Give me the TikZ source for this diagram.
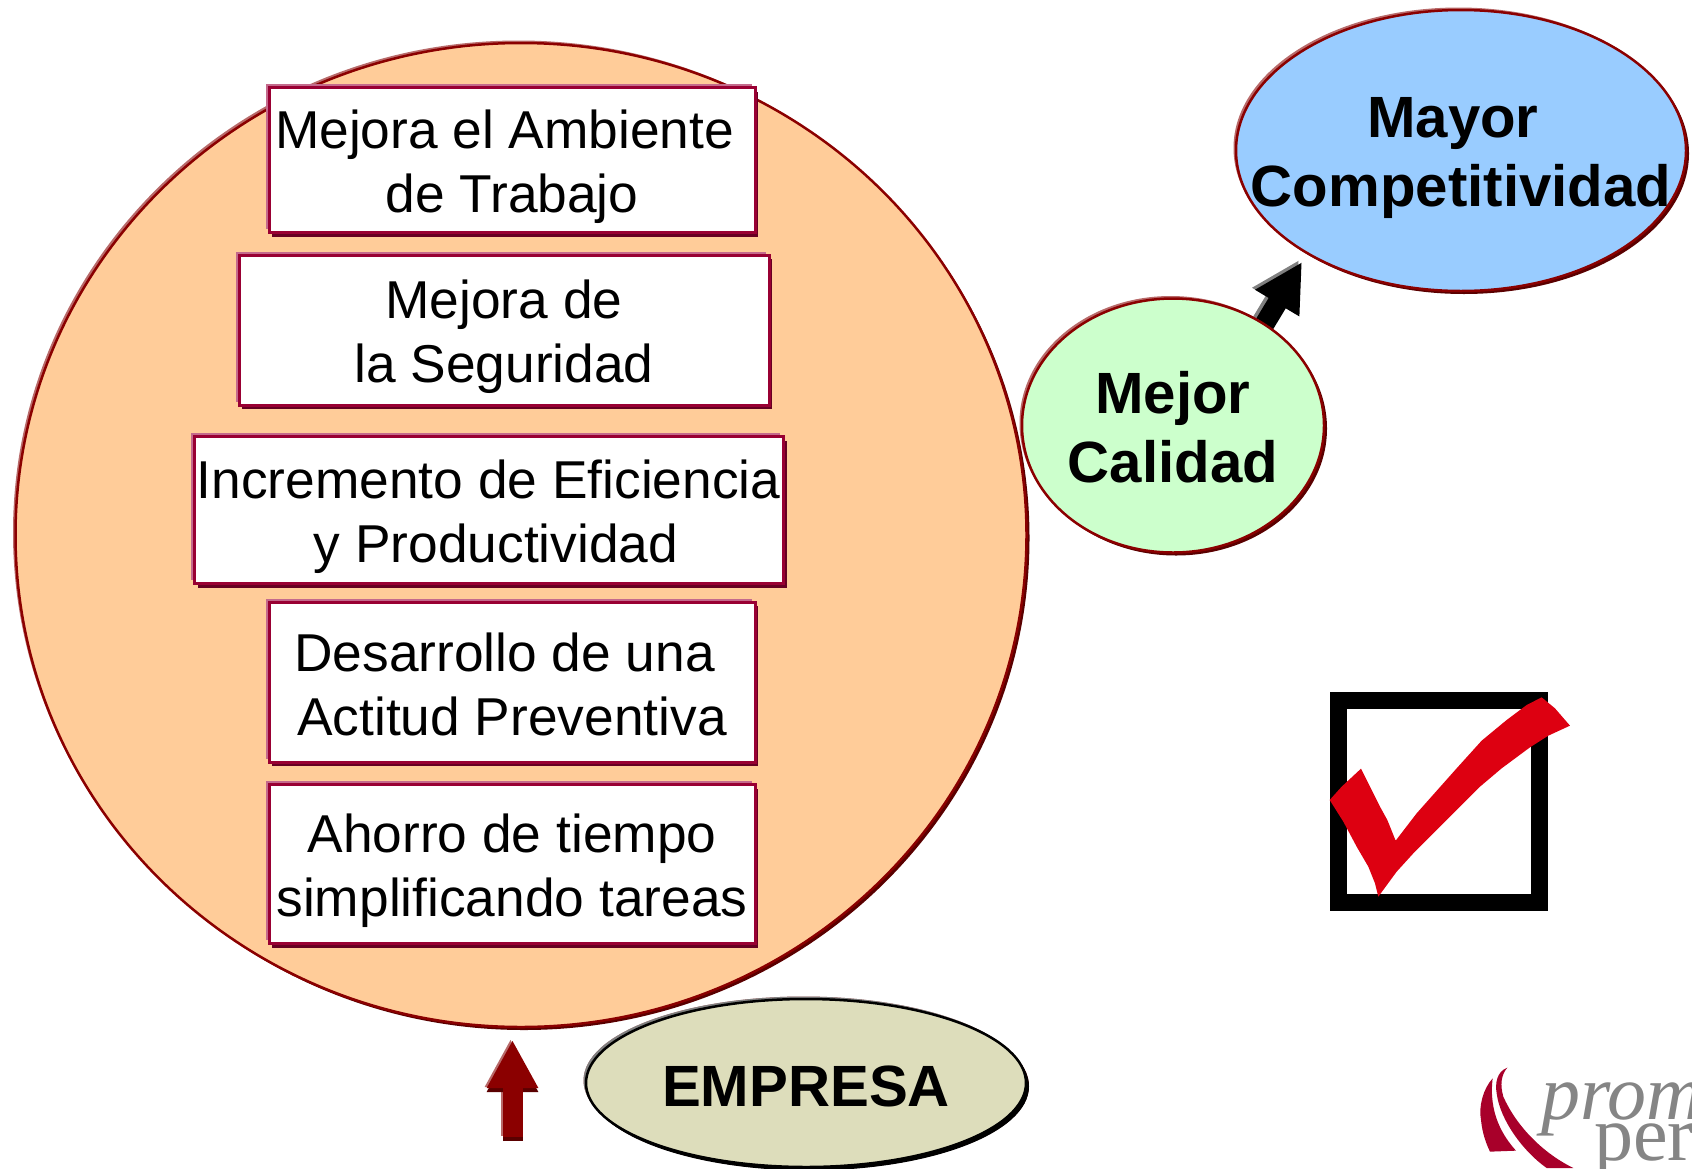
\documentclass[tikz,border=0pt]{standalone}
\usepackage{fontspec}
\setmainfont{Liberation Sans}
\newfontfamily\logofont{Liberation Serif}
\usetikzlibrary{shapes.geometric,shadows,arrows.meta,backgrounds}
\definecolor{peach}{HTML}{FFCC99}
\definecolor{mint}{HTML}{CCFFCC}
\definecolor{sky}{HTML}{99CCFF}
\definecolor{khaki}{HTML}{DDDDBB}
\definecolor{maroon}{HTML}{8B0000}
\definecolor{maroonlight}{HTML}{B86A6A}
\definecolor{maroondark}{HTML}{5A0000}
\definecolor{wine}{HTML}{990033}
\definecolor{winelight}{HTML}{C46A8C}
\definecolor{winedark}{HTML}{660022}
\definecolor{checkred}{HTML}{DD0011}
\definecolor{logored}{HTML}{A8002A}
\definecolor{logogray}{HTML}{858585}
\newcommand{\tspace}{\mbox{\ }}
\tikzset{oval/.style={ellipse,draw=maroon,line width=2.5pt,inner sep=0,
    general shadow={shadow xshift=-2.5pt,shadow yshift=2.5pt,fill=maroonlight},
    general shadow={shadow xshift=3pt,shadow yshift=-3pt,fill=maroondark}},
    textbox/.style={rectangle,draw=wine,fill=white,line width=3pt,inner sep=0,
    general shadow={shadow xshift=-3.5pt,shadow yshift=3.5pt,fill=winelight},
    general shadow={shadow xshift=3pt,shadow yshift=-4pt,fill=winedark}},
    boxtext/.style={align=center,inner sep=0,yshift=-6.5pt,font=\fontsize{53.3}{64}\selectfont},
    ovaltext/.style={align=center,inner sep=0,font=\fontsize{58.2}{69}\selectfont\bfseries},
    blockarrow/.style={line width=20pt,-{Triangle[length=48pt,width=48pt]}}}

\begin{document}
\begin{tikzpicture}[x=1pt,y=-1pt]
\useasboundingbox (0,0) rectangle (1692,1168);
\node[oval,fill=peach,minimum width=1011pt,minimum height=984pt] (empresacircle) at (521,535) {};

\node[textbox,minimum width=486pt,minimum height=145pt] (ambiente) at (512,160) {};
\node[boxtext] at (ambiente) {Mejora el Ambiente\tspace\\de Trabajo};
\node[textbox,minimum width=530pt,minimum height=150pt] (seguridad) at (504,330) {};
\node[boxtext] at (seguridad) {Mejora de\\la Seguridad};
\node[textbox,minimum width=589pt,minimum height=147pt] (eficiencia) at (489,510) {};
\node[boxtext,xshift=7pt] at (eficiencia) {Incremento de Eficiencia\tspace\\y Productividad};
\node[textbox,minimum width=486pt,minimum height=160pt] (actitud) at (512,682) {};
\node[boxtext,yshift=4.5pt] at (actitud) {Desarrollo de una\tspace\\Actitud Preventiva};
\node[textbox,minimum width=486pt,minimum height=159pt] (ahorro) at (512,864) {};
\node[boxtext] at (ahorro) {Ahorro de tiempo\\simplificando tareas};

\node[oval,fill=mint,minimum width=302pt,minimum height=254pt] (calidad) at (1173,425.5) {};
\node[ovaltext,yshift=-1.5pt] at (calidad) {Mejor\\Calidad};
\node[oval,fill=sky,minimum width=450pt,minimum height=281pt] (mayor) at (1461,150.5) {};
\node[ovaltext,yshift=-7.5pt] at (mayor) {Mayor\tspace\\Competitividad};
\node[oval,draw=black,fill=khaki,minimum width=440pt,minimum height=168pt,
    general shadow={shadow xshift=-2.5pt,shadow yshift=2.5pt,fill=gray},
    general shadow={shadow xshift=3pt,shadow yshift=-3.5pt,fill=black}] (empresa) at (806,1083) {};
\node[ovaltext,yshift=-3pt] at (empresa) {EMPRESA};

% flechas
\coordinate (mayortip) at (1302,262);
\coordinate (mayortail) at (calidad.48);
\begin{scope}[on background layer]
\draw[blockarrow,gray,shorten <=-10pt] ([shift={(-3,-2)}]mayortail) -- ([shift={(-3,-2)}]mayortip);
\draw[blockarrow,black,shorten <=-10pt] (mayortail) -- (mayortip);
\end{scope}
\coordinate (empresatip) at (512.5,1040);
\coordinate (empresatail) at (512.5,1137);
\draw[blockarrow,maroonlight] ([shift={(-2,-1)}]empresatail) -- ([shift={(-2,-1)}]empresatip);
\draw[blockarrow,maroondark] ([shift={(0,4)}]empresatail) -- ([shift={(0,4)}]empresatip);
\draw[blockarrow,maroon] (empresatail) -- (empresatip);

% casilla
\node[draw=black,line width=16.5pt,minimum width=201pt,minimum height=202pt,inner sep=0] (casilla) at (1439,801.5) {};
\begin{scope}[shift={(1300,670)},x=.3333pt,y=-.3333pt]
\fill[checkred] (89,390) -- (125,350) -- (183,296) -- (240,410) -- (262,450) -- (287,512)
  -- (350,430) -- (470,295) -- (545,212) -- (620,150) -- (680,105) -- (725,82) -- (765,115)
  -- (810,167) -- (745,197) -- (690,232) -- (605,295) -- (540,350) -- (470,420) -- (400,490)
  -- (340,550) -- (290,605) -- (235,680) -- (225,640) -- (205,590) -- (170,530) -- (130,455) -- cycle;
\end{scope}

% logo
\begin{scope}
\clip (0,0) rectangle (1692,1168);
\begin{scope}[shift={(1400,1020)},x=.3333pt,y=-.3333pt]
\fill[logored] (278,175) .. controls (250,205) and (235,260) .. (243,300)
  .. controls (247,340) and (258,370) .. (270,395) -- (348,392)
  .. controls (310,350) and (265,280) .. (278,175) -- cycle;
\fill[logored] (322,143) .. controls (290,155) and (285,190) .. (290,220)
  .. controls (300,300) and (370,395) .. (440,444) -- (520,444)
  .. controls (430,400) and (350,320) .. (310,230) .. controls (300,195) and (303,165) .. (322,143) -- cycle;
\end{scope}
\node[anchor=base west,inner sep=0,text=logogray,font=\fontsize{78}{78}\selectfont\logofont\itshape] (prom) at (1541,1119) {prom};
\node[anchor=base west,inner sep=0,text=logogray,font=\fontsize{78}{78}\selectfont\logofont] (per) at (1594,1160) {per};
\end{scope}
\end{tikzpicture}
\end{document}
